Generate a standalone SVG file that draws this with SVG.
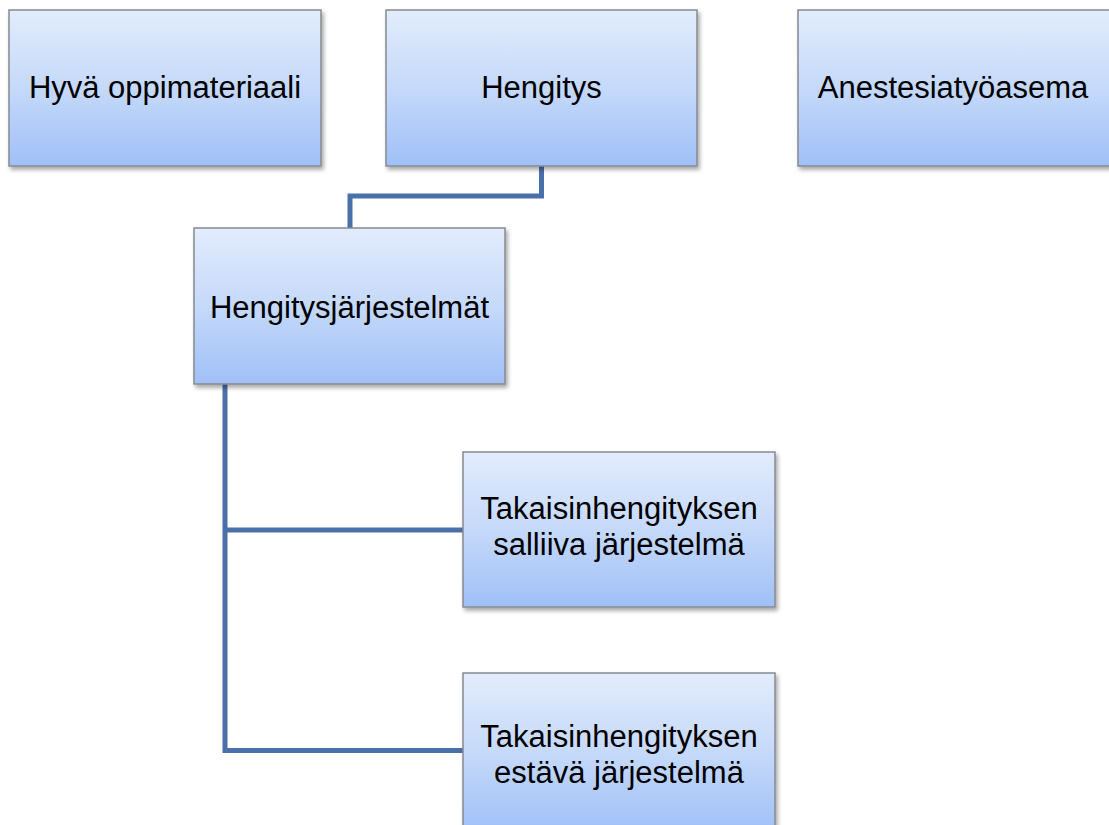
<svg xmlns="http://www.w3.org/2000/svg" width="1109" height="825" viewBox="0 0 1109 825">
<defs>
<linearGradient id="g" x1="0" y1="0" x2="0" y2="1">
<stop offset="0" stop-color="#e2ecfc"/>
<stop offset="0.5" stop-color="#c5d9fa"/>
<stop offset="1" stop-color="#9fc0f7"/>
</linearGradient>
<filter id="sh" x="-10%" y="-10%" width="120%" height="130%">
<feDropShadow dx="2" dy="3" stdDeviation="2" flood-color="#000" flood-opacity="0.35"/>
</filter>
</defs>
<style>
.box{fill:url(#g);stroke:#878a90;stroke-width:1.5;filter:url(#sh)}
.t{font-family:"Liberation Sans",Arial,sans-serif;font-size:31px;fill:#000;text-anchor:middle}
.c{fill:none;stroke:#4a70a9;stroke-width:5;stroke-linejoin:miter}
</style>
<rect width="1109" height="825" fill="#fff"/>
<g id="connectors">
<path class="c" d="M541.5 166 V196 H350 V228"/>
<path class="c" d="M225 384 V750.5 H463"/>
<path class="c" d="M225 530 H463"/>
</g>
<g id="n1"><rect class="box" x="9" y="10" width="312" height="156"/><text class="t" x="165" y="98">Hyvä oppimateriaali</text></g>
<g id="n2"><rect class="box" x="386" y="10" width="311" height="156"/><text class="t" x="541.5" y="98">Hengitys</text></g>
<g id="n3"><rect class="box" x="798" y="10" width="312" height="156"/><text class="t" x="953" y="98">Anestesiatyöasema</text></g>
<g id="n4"><rect class="box" x="194" y="228" width="311" height="156"/><text class="t" x="349.5" y="318">Hengitysjärjestelmät</text></g>
<g id="n5"><rect class="box" x="463" y="452" width="312" height="155"/><text class="t" x="619" y="519">Takaisinhengityksen</text><text class="t" x="619" y="555">salliiva järjestelmä</text></g>
<g id="n6"><rect class="box" x="463" y="673" width="312" height="160"/><text class="t" x="619" y="747">Takaisinhengityksen</text><text class="t" x="619" y="783">estävä järjestelmä</text></g>
</svg>
